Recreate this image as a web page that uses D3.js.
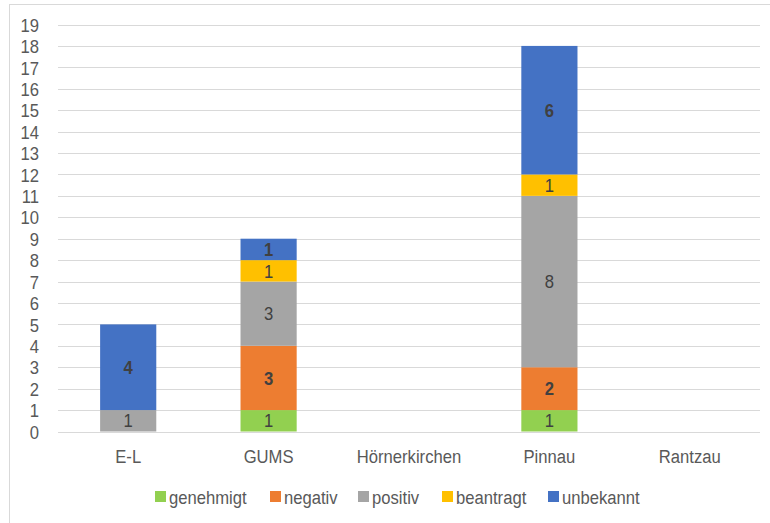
<!DOCTYPE html>
<html><head><meta charset="utf-8">
<script src="https://cdn.jsdelivr.net/npm/d3@7"></script>
<style>body{margin:0;background:#fff}svg{display:block}</style>
</head><body><svg id="c" width="770" height="523"></svg>
<script>
const categories = ["E-L","GUMS","Hörnerkirchen","Pinnau","Rantzau"];
const seriesNames = ["genehmigt","negativ","positiv","beantragt","unbekannt"];
const genehmigt = [0,1,0,1,0];
const negativ   = [0,3,0,2,0];
const positiv   = [1,3,0,8,0];
const beantragt = [0,1,0,1,0];
const unbekannt = [4,1,0,6,0];
const yTicks = d3.range(0,20);
const colors = ["#92d050","#ed7d31","#a5a5a5","#ffc000","#4472c4"];
const boldSeries = ["negativ","unbekannt"];

const seriesVals = [genehmigt,negativ,positiv,beantragt,unbekannt];
const rows = categories.map((c,i)=>{const o={cat:c};seriesNames.forEach((s,j)=>o[s]=seriesVals[j][i]);return o;});
const stack = d3.stack().keys(seriesNames)(rows);

const svg = d3.select("#c");
const font = "'Liberation Sans', Arial, sans-serif";
const FS = 18.5, SX = 0.9;
svg.append("rect").attr("x",9.5).attr("y",4.5).attr("width",800).attr("height",600)
  .attr("fill","#fff").attr("stroke","#d9d9d9").attr("stroke-width",1);

const x = d3.scaleBand().domain(categories).range([58,760]).paddingInner(0.6).paddingOuter(0.3);
const y = d3.scaleLinear().domain([0,19]).range([431.5,24.5]);

// grid
svg.append("g").selectAll("line").data(yTicks).join("line")
  .attr("x1",58).attr("x2",760).attr("y1",d=>Math.round(y(d))+0.5).attr("y2",d=>Math.round(y(d))+0.5)
  .attr("stroke","#d9d9d9").attr("stroke-width",1);

// y axis labels
const yAxis = d3.axisLeft(y).tickValues(yTicks).tickSize(0).tickPadding(0);
const ga = svg.append("g").attr("transform","translate(39,0)").call(yAxis);
ga.select(".domain").remove();
ga.selectAll("text").attr("font-family",font).attr("font-size",FS).attr("fill","#595959").attr("dy","0.36em")
  .attr("transform",`scale(${SX},1)`);

// x axis labels
const xAxis = d3.axisBottom(x).tickSize(0).tickPadding(0);
const gx = svg.append("g").attr("transform","translate(0,450)").call(xAxis);
gx.select(".domain").remove();
gx.selectAll("text").attr("font-family",font).attr("font-size",FS).attr("fill","#595959").attr("dy","0.71em")
  .attr("transform",`scale(${SX},1)`);

// bars
const layers = svg.append("g").selectAll("g").data(stack).join("g").attr("fill",(d,i)=>colors[i]);
layers.selectAll("rect").data(d=>d.filter(p=>p[1]-p[0]>0)).join("rect")
  .attr("x",d=>x(d.data.cat)).attr("width",x.bandwidth())
  .attr("y",d=>y(d[1])).attr("height",d=>y(d[0])-y(d[1]));

// labels
const lab = svg.append("g");
stack.forEach((layer)=>{
  const bold = boldSeries.includes(layer.key);
  layer.forEach(p=>{
    const v = p[1]-p[0];
    if(v<=0) return;
    const cx = x(p.data.cat)+x.bandwidth()/2, cy = (y(p[0])+y(p[1]))/2;
    lab.append("text").attr("transform",`translate(${cx},${cy}) scale(${SX},1)`)
      .attr("dy","0.36em").attr("text-anchor","middle").attr("font-family",font).attr("font-size",FS)
      .attr("font-weight",bold?"bold":"normal").attr("fill","#404040").text(v);
  });
});

// legend
const legX = [155,270,358,442,548];
const leg = svg.append("g");
seriesNames.forEach((s,i)=>{
  leg.append("rect").attr("x",legX[i]).attr("y",491).attr("width",11).attr("height",11).attr("fill",colors[i]);
  leg.append("text").attr("transform",`translate(${legX[i]+14},497) scale(${SX},1)`).attr("dy","0.36em").attr("font-family",font)
    .attr("font-size",FS).attr("fill","#595959").text(s);
});
</script></body></html>
